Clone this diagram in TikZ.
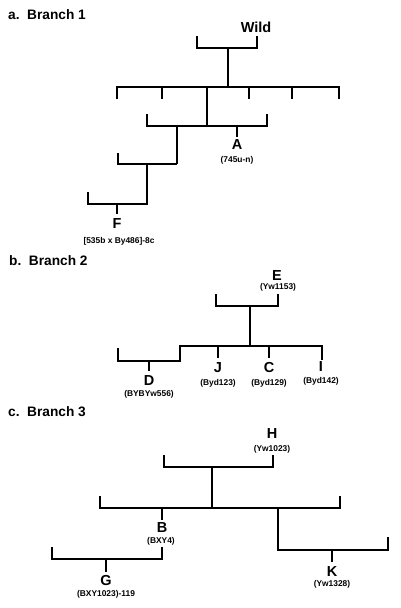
\documentclass[tikz,border=0pt]{standalone}
\usepackage{fontspec}
\setmainfont{Liberation Sans}
\begin{document}
\begin{tikzpicture}[x=1pt,y=-1pt,
  br/.style={line width=2.9pt, line join=miter},
  lbl/.style={font=\bfseries\fontsize{14.5}{14.5}\selectfont, inner sep=0pt},
  sub/.style={font=\bfseries\fontsize{8.4}{8.4}\selectfont, inner sep=0pt},
  ttl/.style={font=\bfseries\fontsize{13.7}{13.7}\selectfont, anchor=west, inner sep=0pt}]
\useasboundingbox[fill=white] (0,0) rectangle (400,608);
% titles
\node[ttl] (ta) at (8,15) {a.\ \ Branch 1};
\node[ttl] (tb) at (9,261) {b.\ \ Branch 2};
\node[ttl] (tc) at (8,412) {c.\ \ Branch 3};
% ---------- Branch 1
\node[lbl] (wild) at (256,27) {Wild};
\draw[br] (197,36) |- (257,48) -- (257,36);
\draw[br] (228,48) -- (228,87);
\draw[br] (117,99) |- (339,87) -- (339,99);
\draw[br] (162,87) -- (162,99);
\draw[br] (249,87) -- (249,99);
\draw[br] (292,87) -- (292,99);
\draw[br] (207,87) -- (207,126);
\draw[br] (147,114) |- (267,126) -- (267,114);
\draw[br] (237,126) -- (237,137);
\node[lbl] (A) at (237,145) {A};
\node[sub] (As) at (237,160) {(745u-n)};
\draw[br] (177,126) -- (177,164);
\draw[br] (118,153) |- (177,164);
\draw[br] (147,164) -- (147,204);
\draw[br] (88,192) |- (148,204);
\draw[br] (117,204) -- (117,214);
\node[lbl] (F) at (117,224) {F};
\node[sub] (Fs) at (119,241) {[535b x By486]-8c};
% ---------- Branch 2
\node[lbl] (E) at (277,276) {E};
\node[sub] (Es) at (278,287) {(Yw1153)};
\draw[br] (216,294) |- (278,306) -- (278,294);
\draw[br] (250,306) -- (250,346);
\draw[br] (118,348) |- (180,361) -- (180,346) -- (322,346) -- (322,360);
\draw[br] (218,346) -- (218,358);
\draw[br] (269,346) -- (269,358);
\draw[br] (149,361) -- (149,371);
\node[lbl] (D) at (149,381) {D};
\node[sub] (Ds) at (149,394) {(BYBYw556)};
\node[lbl] (J) at (218,368) {J};
\node[sub] (Js) at (218,383) {(Byd123)};
\node[lbl] (C) at (269,368) {C};
\node[sub] (Cs) at (269,383) {(Byd129)};
\node[lbl] (I) at (321,367) {I};
\node[sub] (Is) at (321,381) {(Byd142)};
% ---------- Branch 3
\node[lbl] (H) at (272,434) {H};
\node[sub] (Hs) at (272,449) {(Yw1023)};
\draw[br] (164,455) |- (273,467) -- (273,455);
\draw[br] (212,467) -- (212,508);
\draw[br] (100,496) |- (340,508) -- (340,496);
\draw[br] (162,508) -- (162,520);
\node[lbl] (B) at (162,528) {B};
\node[sub] (Bs) at (161,541) {(BXY4)};
\draw[br] (278,508) -- (278,550) -- (388,550) -- (388,537);
\draw[br] (332,550) -- (332,562);
\node[lbl] (K) at (332,572) {K};
\node[sub] (Ks) at (332,584) {(Yw1328)};
\draw[br] (162,547) -- (162,559) -- (52,559) -- (52,547);
\draw[br] (106,559) -- (106,572);
\node[lbl] (G) at (106,581) {G};
\node[sub] (Gs) at (106,594) {(BXY1023)-119};
\end{tikzpicture}
\end{document}
